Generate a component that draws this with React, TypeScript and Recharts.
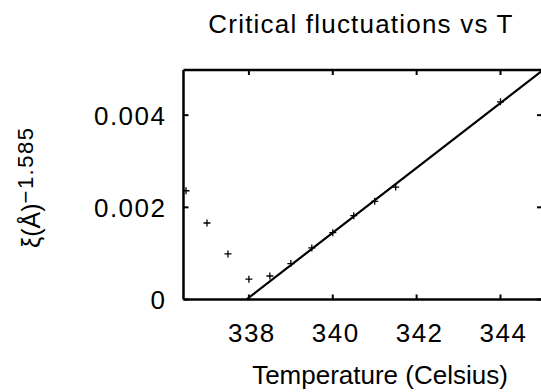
import React from 'react';
import { ScatterChart, Scatter, XAxis, YAxis, ReferenceLine } from 'recharts';

// ---- data ----
const temperatures = [336.5, 337.0, 337.5, 338.0, 338.5, 339.0, 339.5, 340.0, 340.5, 341.0, 341.5, 344.0];
const fluctuations = [0.00236, 0.00166, 0.00099, 0.00044, 0.00051, 0.00078, 0.00112, 0.00145, 0.00182, 0.00213, 0.00244, 0.00429];
const fitTemperatures = [337.94, 344.99];
const fitValues = [0, 0.00496];
const xTicks = [338, 340, 342, 344];
const xTickLabels = ['338', '340', '342', '344'];
const yTicks = [0, 0.002, 0.004];
const yTickLabels = ['0', '0.002', '0.004'];
const xDomain = [336.44, 344.99];
const yDomain = [0, 0.00498];
const title = 'Critical fluctuations vs T';
const xLabel = 'Temperature (Celsius)';
const yLabelMain = 'ξ(Å)';
const yLabelSup = '−1.585';

const points = temperatures.map((t, i) => ({ x: t, y: fluctuations[i] }));
const fit = fitTemperatures.map((t, i) => ({ x: t, y: fitValues[i] }));

const FONT = "'Liberation Sans', Arial, Helvetica, sans-serif";
const W = 541;
const H = 392;
const MARGIN = { top: 70, right: -1, bottom: 52.5, left: 83.5 };
const X_AXIS_H = 40;
const Y_AXIS_W = 100;
const PLOT_TOP = MARGIN.top;
const PLOT_RIGHT = W - MARGIN.right;
const TICK_LEN = 5;
const BORDER_W = 2.5;

const XTickBottom = (props: any) => {
  const { x, y, payload } = props;
  const i = xTicks.indexOf(payload.value);
  return (
    <g>
      <line x1={x} y1={y} x2={x} y2={y - TICK_LEN} stroke="#000" strokeWidth={2} />
      <line x1={x} y1={PLOT_TOP} x2={x} y2={PLOT_TOP + TICK_LEN} stroke="#000" strokeWidth={2} />
      <text x={x + 3} y={y + 42} textAnchor="middle" fontSize={26} letterSpacing={1.5} fontFamily={FONT} fill="#000">
        {xTickLabels[i]}
      </text>
    </g>
  );
};

const YTickLeft = (props: any) => {
  const { x, y, payload } = props;
  const i = yTicks.indexOf(payload.value);
  return (
    <g>
      <line x1={x} y1={y} x2={x + TICK_LEN} y2={y} stroke="#000" strokeWidth={2} />
      <line x1={PLOT_RIGHT} y1={y} x2={PLOT_RIGHT - TICK_LEN} y2={y} stroke="#000" strokeWidth={2} />
      <text x={x - 17} y={y + 9.5} textAnchor="end" fontSize={26} letterSpacing={1.5} fontFamily={FONT} fill="#000">
        {yTickLabels[i]}
      </text>
    </g>
  );
};

const Plus = (props: any) => {
  const { cx, cy } = props;
  if (cx == null || cy == null) return <g />;
  return <path d={`M${cx - 3.5},${cy}h7M${cx},${cy - 3.5}v7`} stroke="#000" strokeWidth={1.3} fill="none" />;
};

const Nothing = () => <g />;

export default function App() {
  return (
    <div style={{ position: 'absolute', left: 0, top: 0, width: W, height: H, overflow: 'hidden', background: '#fff' }}>
      <ScatterChart width={W} height={H} margin={MARGIN}>
        <XAxis
          dataKey="x"
          type="number"
          domain={xDomain}
          allowDataOverflow
          ticks={xTicks}
          interval={0}
          height={X_AXIS_H}
          tickSize={0}
          tickMargin={0}
          tickLine={false}
          axisLine={{ stroke: '#000', strokeWidth: BORDER_W }}
          tick={<XTickBottom />}
        />
        <YAxis
          dataKey="y"
          type="number"
          domain={yDomain}
          allowDataOverflow
          ticks={yTicks}
          interval={0}
          width={Y_AXIS_W}
          tickSize={0}
          tickMargin={0}
          tickLine={false}
          axisLine={{ stroke: '#000', strokeWidth: BORDER_W }}
          tick={<YTickLeft />}
        />
        <ReferenceLine y={yDomain[1]} stroke="#000" strokeWidth={BORDER_W} ifOverflow="extendDomain" />
        <Scatter data={fit} shape={<Nothing />} line={{ stroke: '#000', strokeWidth: 2.2 }} isAnimationActive={false} />
        <Scatter data={points} shape={<Plus />} isAnimationActive={false} />
      </ScatterChart>
      <svg width={W} height={H} style={{ position: 'absolute', left: 0, top: 0, pointerEvents: 'none' }}>
        <text x={361} y={33} textAnchor="middle" fontSize={26} letterSpacing={1.2} fontFamily={FONT} fill="#000">
          {title}
        </text>
        <text x={380} y={384} textAnchor="middle" fontSize={26} fontFamily={FONT} fill="#000">
          {xLabel}
        </text>
        <text x={40} y={248} transform="rotate(-90 40 248)" fontSize={25} fontFamily={FONT} fill="#000">
          {yLabelMain}
          <tspan dy={-7} fontSize={22} letterSpacing={1.5}>{yLabelSup}</tspan>
        </text>
      </svg>
    </div>
  );
}
